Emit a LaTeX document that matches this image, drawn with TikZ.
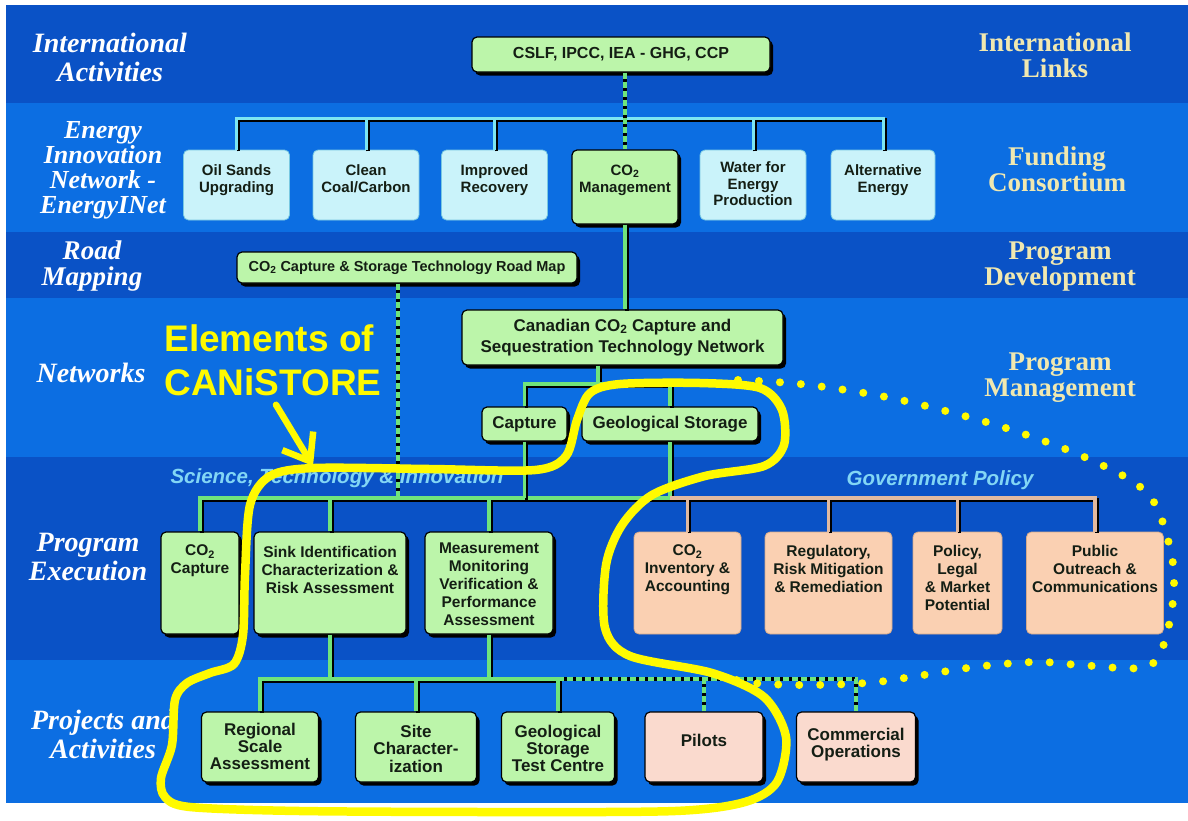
\documentclass[tikz,border=0pt]{standalone}
\usepackage{fontspec}
\setmainfont{Liberation Sans}
\newfontfamily\serifface{Liberation Serif}
\usetikzlibrary{arrows.meta,calc,shadows}

\definecolor{banddark}{RGB}{10,82,198}
\definecolor{bandlight}{RGB}{12,110,226}
\definecolor{boxgreen}{RGB}{188,245,170}
\definecolor{boxcyan}{RGB}{202,243,250}
\definecolor{boxtan}{RGB}{250,208,178}
\definecolor{boxpink}{RGB}{250,218,206}
\definecolor{linegreen}{RGB}{112,228,124}
\definecolor{linecyan}{RGB}{125,230,242}
\definecolor{linetan}{RGB}{226,186,160}
\definecolor{edgecyan}{RGB}{120,200,225}
\definecolor{edgetan}{RGB}{212,170,140}
\definecolor{textdark}{RGB}{20,30,20}
\definecolor{labcream}{RGB}{240,232,176}
\definecolor{labsci}{RGB}{130,214,245}
\definecolor{hlyellow}{RGB}{255,250,0}

\newcommand{\cotwo}{CO\textsubscript{2}}
\newcommand{\boxfont}[2]{\fontsize{#1}{#2}\selectfont\bfseries}
\newcommand{\sidefontL}[2]{\serifface\fontsize{#1}{#2}\selectfont\bfseries\itshape}
\newcommand{\sidefontR}[1]{\serifface\fontsize{27}{#1}\selectfont\bfseries}
% text hung from the top of a box of given height
\newcommand{\toptext}[3][11]{\vbox to #2pt{\vskip #1pt\hbox{\begin{tabular}{@{}c@{}}#3\end{tabular}}\vfil}}

\tikzset{
  gbox/.style={draw=black,line width=1.2pt,fill=boxgreen,rounded corners=5pt,
    drop shadow={shadow xshift=3pt,shadow yshift=-3.5pt,fill=black,opacity=1},
    inner xsep=2pt,inner ysep=0pt,align=center,text=textdark},
  pbox/.style={gbox,fill=boxpink},
  cbox/.style={draw=edgecyan,line width=0.8pt,fill=boxcyan,rounded corners=5pt,
    inner xsep=2pt,inner ysep=0pt,align=center,text=textdark},
  tbox/.style={draw=edgetan,line width=0.8pt,fill=boxtan,rounded corners=5pt,
    inner xsep=2pt,inner ysep=0pt,align=center,text=textdark},
  erow/.style={font=\boxfont{15}{16.5},minimum width=106pt},
  xrow/.style={font=\boxfont{15.5}{18}},
  jrow/.style={font=\boxfont{17}{17}},
  gline/.style={draw=linegreen,line width=3.5pt,
    preaction={draw=black,line width=3.5pt,transform canvas={shift={(1.8pt,-1.8pt)}}}},
  cline/.style={gline,draw=linecyan,line width=3pt},
  tline/.style={gline,draw=linetan},
  dline/.style={draw=linegreen,line width=3.2pt,dash pattern=on 6pt off 3pt,
    preaction={draw=black,line width=4.8pt}},
  leftlab/.style={font=\sidefontL{28}{29},text=white,align=center,inner sep=0pt},
  rightlab/.style={font=\sidefontR{26},text=labcream,align=center,inner sep=0pt},
  scilab/.style={font=\fontsize{20.5}{22}\selectfont\bfseries\itshape,text=labsci,inner sep=0pt},
  elemlab/.style={font=\fontsize{37}{44}\selectfont\bfseries,text=hlyellow,align=left,inner sep=0pt},
  hlloop/.style={draw=hlyellow,line width=8.5pt},
  hldots/.style={draw=hlyellow,line width=8pt,line cap=round,dash pattern=on 0pt off 21pt},
  hlarrow/.style={draw=hlyellow,line width=6.5pt,line cap=round,
    -{Straight Barb[length=24pt,width=36pt]}},
}

\begin{document}
\begin{tikzpicture}[x=1pt,y=-1pt]
  \useasboundingbox (0,0) rectangle (1188,820);

  % bands
  \fill[banddark]  (6,5)   rectangle (1188,103);
  \fill[bandlight] (6,103) rectangle (1188,232);
  \fill[banddark]  (6,232) rectangle (1188,298);
  \fill[bandlight] (6,298) rectangle (1188,457);
  \fill[banddark]  (6,457) rectangle (1188,660);
  \fill[bandlight] (6,660) rectangle (1188,803);

  % row labels
  \node[leftlab] (lintl) at (110,57) {International\\Activities};
  \node[leftlab,font=\sidefontL{26}{25}] (lenergy) at (103,170) {Energy\\Innovation\\Network -\\EnergyINet};
  \node[leftlab,font=\sidefontL{27}{26.5}] (lroad) at (92,266) {Road\\Mapping};
  \node[leftlab] (lnet) at (91,373) {Networks};
  \node[leftlab] (lexec) at (88,557) {Program\\Execution};
  \node[leftlab] (lproj) at (103,734) {Projects and\\Activities};

  \node[rightlab] (rintl) at (1055,55) {International\\Links};
  \node[rightlab] (rfund) at (1057,169) {Funding\\Consortium};
  \node[rightlab] (rdev) at (1060,267) {Program\\Development};
  \node[rightlab] (rman) at (1060,378) {Program\\Management};

  % international activities
  \node[gbox,font=\boxfont{16}{18},minimum width=298pt,minimum height=35pt] (cslf)
    at (621,54.5) {CSLF, IPCC, IEA - GHG, CCP};

  % energy innovation network
  \node[cbox,erow] (oil)   at (236.5,185) {\toptext[14]{70}{Oil Sands\\Upgrading}};
  \node[cbox,erow] (clean) at (366,185)   {\toptext[14]{70}{Clean\\Coal/Carbon}};
  \node[cbox,erow] (impr)  at (494.5,185) {\toptext[14]{70}{Improved\\Recovery}};
  \node[gbox,erow] (co2m)  at (625,187)   {\toptext[14]{74}{\cotwo\\Management}};
  \node[cbox,erow] (water) at (753,185)   {\toptext[11]{70}{Water for\\Energy\\Production}};
  \node[cbox,erow,minimum width=104pt] (alt) at (883,185) {\toptext[14]{70}{Alternative\\Energy}};

  % road mapping and networks
  \node[gbox,font=\boxfont{14.5}{16},minimum width=340pt,minimum height=31pt] (road)
    at (407,267.5) {\cotwo{} Capture \& Storage Technology Road Map};
  \node[gbox,font=\boxfont{17}{21},minimum width=321pt,minimum height=55pt] (can)
    at (622.5,337.5) {Canadian \cotwo{} Capture and\\Sequestration Technology Network};
  \node[gbox,font=\boxfont{17}{19},minimum width=85pt,minimum height=34pt] (capt)
    at (524.5,424) {Capture};
  \node[gbox,font=\boxfont{17}{19},minimum width=176pt,minimum height=34pt] (geo)
    at (670,424) {Geological Storage};

  % program execution
  \node[gbox,xrow,minimum width=78pt]  (cap2) at (200,583) {\toptext[11]{102}{\cotwo\\Capture}};
  \node[gbox,xrow,minimum width=152pt] (sink) at (330,583) {\toptext[13]{102}{Sink Identification\\Characterization \&\\Risk Assessment}};
  \node[gbox,xrow,minimum width=128pt] (mmv)  at (489,583) {\toptext[9]{102}{Measurement\\Monitoring\\Verification \&\\Performance\\Assessment}};
  \node[tbox,xrow,minimum width=107pt] (inv)  at (687.5,583) {\toptext[11]{102}{\cotwo\\Inventory \&\\Accounting}};
  \node[tbox,xrow,minimum width=127pt] (regu) at (828.5,583) {\toptext[12]{102}{Regulatory,\\Risk Mitigation\\\& Remediation}};
  \node[tbox,xrow,minimum width=89pt]  (pol)  at (957.5,583) {\toptext[12]{102}{Policy,\\Legal\\\& Market\\Potential}};
  \node[tbox,xrow,minimum width=137pt] (pub)  at (1095,583) {\toptext[12]{102}{Public\\Outreach \&\\Communications}};

  % projects and activities
  \node[gbox,jrow,minimum width=117pt] (reg)  at (260,747) {\toptext[11]{70}{Regional\\Scale\\Assessment}};
  \node[gbox,jrow,minimum width=121pt] (site) at (416,747) {\toptext[13]{70}{Site\\Character-\\ization}};
  \node[gbox,jrow,minimum width=113pt] (gstc) at (558,747) {\toptext[13]{70}{Geological\\Storage\\Test Centre}};
  \node[pbox,jrow,minimum width=118pt] (pil)  at (704,747) {\toptext[22]{70}{Pilots}};
  \node[pbox,jrow,minimum width=119pt] (comm) at (856,747) {\toptext[16]{70}{Commercial\\Operations}};

  % bus levels
  \coordinate (ebus) at (0,118);
  \coordinate (nbus) at (0,384);
  \coordinate (pbus) at (0,498);
  \coordinate (jbus) at (0,679);
  \coordinate (canout) at ($(can.south)+(-24.5,0)$);
  \coordinate (roadout) at ($(road.south)+(-9,0)$);

  % funding consortium
  \draw[cline] (oil.north) |- (ebus -| alt.north) -- (alt.north);
  \draw[cline] (clean.north) -- (clean.north |- ebus);
  \draw[cline] (impr.north) -- (impr.north |- ebus);
  \draw[cline] (water.north) -- (water.north |- ebus);
  \draw[dline] (cslf.south -| co2m.north) -- (co2m.north);

  % networks
  \draw[gline] (co2m.south) -- (co2m.south |- can.north);
  \draw[gline] (canout) -- (canout |- nbus);
  \draw[gline] (capt.north) |- (nbus -| geo.north) -- (geo.north);

  % program execution
  \draw[dline] (roadout) -- (roadout |- pbus);
  \draw[gline] (cap2.north) |- (pbus -| geo.south) -- (geo.south);
  \draw[gline] (capt.south) -- (capt.south |- pbus);
  \draw[gline] (sink.north) -- (sink.north |- pbus);
  \draw[gline] (mmv.north) -- (mmv.north |- pbus);
  \draw[tline] (pbus -| geo.south) -| (pub.north);
  \draw[tline] (inv.north) -- (inv.north |- pbus);
  \draw[tline] (regu.north) -- (regu.north |- pbus);
  \draw[tline] (pol.north) -- (pol.north |- pbus);

  % projects
  \draw[gline] (sink.south) -- (sink.south |- jbus);
  \draw[gline] (mmv.south) -- (mmv.south |- jbus);
  \draw[gline] (reg.north) |- (jbus -| gstc.north) -- (gstc.north);
  \draw[gline] (site.north) -- (site.north |- jbus);
  \draw[dline] (jbus -| gstc.north) -| (comm.north);
  \draw[dline] (pil.north) -- (pil.north |- jbus);

  \node[scilab] (lsci) at (337,478) {Science, Technology \& Innovation};
  \node[scilab] (lgov) at (940,480) {Government Policy};

  % CANiSTORE highlight
  \node[elemlab] (elem) at (273,360) {Elements of\\CANiSTORE};
  \coordinate (atip) at (313,466);
  \draw[hlarrow] ($(elem.south)+(3,9)$) -- (atip);

  \draw[hldots] plot[smooth,tension=0.6] coordinates {(738,380) (800,384) (870,394)
    (930,407) (1012,430) (1091,460) (1147,493) (1168,540) (1174,580) (1170,620)
    (1159,655) (1140,668) (1080,665) (1035,662) (975,667) (911,677) (866,683)
    (800,685) (745,682) (720,673)};

  \draw[hlloop] plot[smooth cycle,tension=0.5] coordinates {(314,468) (430,469)
    (535,470) (566,456) (577,420) (590,393) (620,384) (700,383) (760,388) (782,410)
    (784,445) (764,466) (705,476) (652,495) (622,525) (606,565) (605,628) (630,656)
    (712,673) (764,697) (786,737) (777,782) (745,802) (675,811) (500,812) (300,811)
    (190,807) (165,797) (161,778) (172,745) (175,700) (187,683) (210,673) (234,664)
    (243,635) (245,575) (250,505) (270,476)};
\end{tikzpicture}
\end{document}
